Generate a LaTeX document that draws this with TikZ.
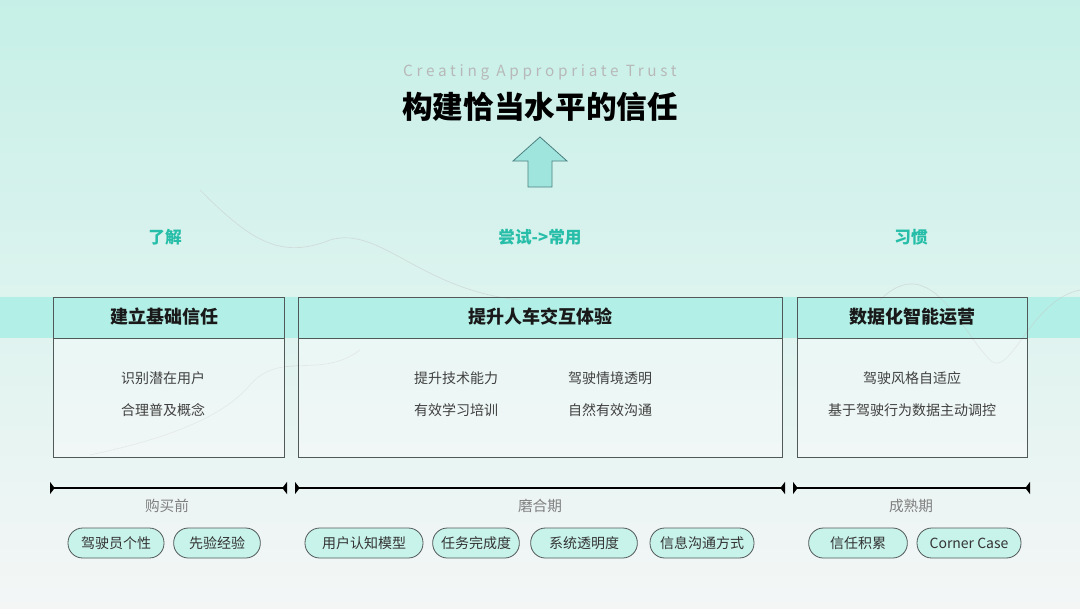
\documentclass[tikz,border=0pt]{standalone}
\usepackage{fontspec}
\setmainfont{Noto Sans CJK SC}
\usetikzlibrary{arrows.meta}
\definecolor{bgtop}{RGB}{198,240,231}
\definecolor{bgmid}{RGB}{224,243,241}
\definecolor{bgbot}{RGB}{244,246,246}
\definecolor{bandteal}{RGB}{178,240,231}
\definecolor{pillteal}{RGB}{200,243,234}
\definecolor{stageteal}{RGB}{38,190,168}
\definecolor{edgegray}{RGB}{80,88,88}

\begin{document}
\begin{tikzpicture}[x=0.75pt, y=-0.75pt,
        font=\fontsize{10.5}{12}\selectfont,
        frame/.style={draw=edgegray, line width=0.7pt},
        hdr/.style={font=\bfseries\fontsize{13.5}{15}\selectfont, text=black!90},
        item/.style={text=black!75},
        stage/.style={font=\bfseries\fontsize{12.5}{14}\selectfont, text=stageteal},
        phase/.style={font=\fontsize{11}{13}\selectfont, text=black!50},
        pill/.style={draw=edgegray, fill=pillteal, line width=0.6pt, rounded corners=11pt,
                     minimum height=22.5pt, inner sep=0pt, text=black!80},
        tl/.style={line width=2pt, black,
                   {Triangle[reversed,width=9pt,length=3.5pt]}-{Triangle[reversed,width=9pt,length=3.5pt]}},
        wave/.style={draw=gray!45, line width=0.5pt, opacity=0.5}]

    \useasboundingbox (0,0) rectangle (1080,608);

    % ---------- background ----------
    \shade[top color=bgtop, middle color=bgmid, bottom color=bgbot] (0,0) rectangle (1080,608);
    \fill[bandteal] (0,297) rectangle (1080,338);
    \draw[wave] (200,190) .. controls (250,240) and (280,260) .. (330,240)
                .. controls (380,225) and (420,290) .. (520,300);
    \draw[wave] (90,455) .. controls (160,440) and (220,420) .. (250,385)
                .. controls (280,350) and (320,380) .. (360,350);
    \draw[wave] (880,300) .. controls (930,250) and (960,330) .. (990,360)
                .. controls (1010,380) and (1030,300) .. (1080,290);

    % ---------- title ----------
    \node[font=\fontsize{11.5}{13}\selectfont\addfontfeatures{LetterSpace=24}, text=black!28] (entitle) at (540,72) {Creating Appropriate Trust};
    \node[font=\bfseries\fontsize{23}{26}\selectfont] (title) at (540,107) {构建恰当水平的信任};
    \draw[draw=gray!60!teal, fill=bandteal!90!teal, line width=0.6pt]
        (540,137) -- (567,161) -- (552,161) -- (552,187) -- (528,187) -- (528,161) -- (513,161) -- cycle;

    % ---------- stages ----------
    \node[stage] (know) at (165,237) {了解};
    \node[stage] (try) at (540,237) {尝试->常用};
    \node[stage] (habit) at (911,237) {习惯};

    % ---------- boxes ----------
    \fill[white, opacity=0.35] (53,338) rectangle (284,457);
    \fill[white, opacity=0.35] (298,338) rectangle (782,457);
    \fill[white, opacity=0.35] (797,338) rectangle (1027,457);
    \draw[frame] (53,297) rectangle (284,457);
    \draw[frame] (53,338) -- (284,338);
    \draw[frame] (298,297) rectangle (782,457);
    \draw[frame] (298,338) -- (782,338);
    \draw[frame] (797,297) rectangle (1027,457);
    \draw[frame] (797,338) -- (1027,338);

    \node[hdr] (base) at (164,317) {建立基础信任};
    \node[hdr] (hmi) at (540,317) {提升人车交互体验};
    \node[hdr] (ops) at (912,317) {数据化智能运营};

    \node[item] (b1) at (163,378) {识别潜在用户};
    \node[item] (b2) at (163,410) {合理普及概念};
    \node[item] (h1) at (456,378) {提升技术能力};
    \node[item] (h2) at (456,410) {有效学习培训};
    \node[item] (h3) at (610,378) {驾驶情境透明};
    \node[item] (h4) at (610,410) {自然有效沟通};
    \node[item] (o1) at (912,378) {驾驶风格自适应};
    \node[item] (o2) at (912,410) {基于驾驶行为数据主动调控};

    % ---------- timeline ----------
    \coordinate (t1a) at (50,488);  \coordinate (t1b) at (287,488);
    \coordinate (t2a) at (295,488); \coordinate (t2b) at (785,488);
    \coordinate (t3a) at (793,488); \coordinate (t3b) at (1030,488);
    \draw[tl] (t1a) -- (t1b);
    \draw[tl] (t2a) -- (t2b);
    \draw[tl] (t3a) -- (t3b);

    \node[phase] (pre) at (167,506) {购买前};
    \node[phase] (runin) at (540,506) {磨合期};
    \node[phase] (mature) at (911,506) {成熟期};

    % ---------- factors ----------
    \node[pill, minimum width=72pt] (f1) at (116,543) {驾驶员个性};
    \node[pill, minimum width=65pt] (f2) at (217,543) {先验经验};
    \node[pill, minimum width=88.5pt] (f3) at (364,543) {用户认知模型};
    \node[pill, minimum width=65pt] (f4) at (476,543) {任务完成度};
    \node[pill, minimum width=80pt] (f5) at (584,543) {系统透明度};
    \node[pill, minimum width=78pt] (f6) at (702,543) {信息沟通方式};
    \node[pill, minimum width=74pt] (f7) at (858,543) {信任积累};
    \node[pill, minimum width=78pt] (f8) at (969,543) {Corner Case};
\end{tikzpicture}
\end{document}
